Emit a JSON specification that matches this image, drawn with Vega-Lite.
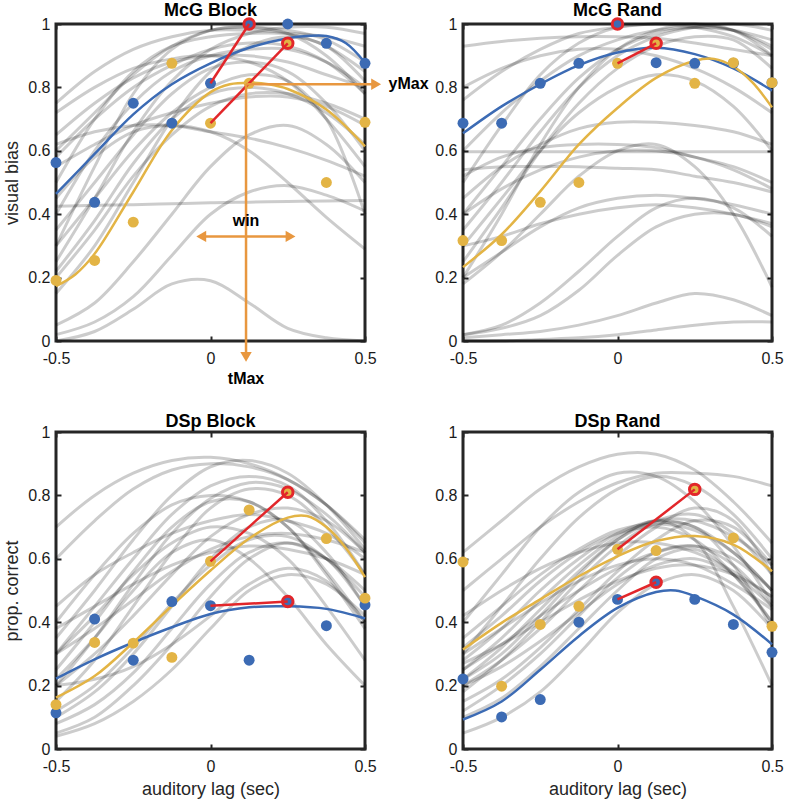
{
"$schema":"https://vega.github.io/schema/vega-lite/v6.json",
"padding":{"left":2,"top":0,"right":2,"bottom":2},
"background":"white",
"bounds":"flush",
"columns":2,
"spacing":{"row":91,"column":98},
"datasets":{
"g1":[
{"c":1,"x":-0.5,"y":0.75},{"c":1,"x":-0.375,"y":0.85},{"c":1,"x":-0.25,"y":0.92},{"c":1,"x":-0.125,"y":0.96},{"c":1,"x":0,"y":0.98},{"c":1,"x":0.125,"y":0.98},{"c":1,"x":0.25,"y":0.97},{"c":1,"x":0.375,"y":0.93},{"c":1,"x":0.5,"y":0.85},
{"c":2,"x":-0.5,"y":0.6},{"c":2,"x":-0.375,"y":0.72},{"c":2,"x":-0.25,"y":0.84},{"c":2,"x":-0.125,"y":0.93},{"c":2,"x":0,"y":0.98},{"c":2,"x":0.125,"y":0.99},{"c":2,"x":0.25,"y":0.97},{"c":2,"x":0.375,"y":0.9},{"c":2,"x":0.5,"y":0.78},
{"c":3,"x":-0.5,"y":0.3},{"c":3,"x":-0.375,"y":0.55},{"c":3,"x":-0.25,"y":0.78},{"c":3,"x":-0.125,"y":0.92},{"c":3,"x":0,"y":0.98},{"c":3,"x":0.125,"y":0.99},{"c":3,"x":0.25,"y":0.98},{"c":3,"x":0.375,"y":0.95},{"c":3,"x":0.5,"y":0.88},
{"c":4,"x":-0.5,"y":0.25},{"c":4,"x":-0.375,"y":0.45},{"c":4,"x":-0.25,"y":0.66},{"c":4,"x":-0.125,"y":0.82},{"c":4,"x":0,"y":0.92},{"c":4,"x":0.125,"y":0.97},{"c":4,"x":0.25,"y":0.99},{"c":4,"x":0.375,"y":0.99},{"c":4,"x":0.5,"y":0.97},
{"c":5,"x":-0.5,"y":0.4},{"c":5,"x":-0.375,"y":0.6},{"c":5,"x":-0.25,"y":0.75},{"c":5,"x":-0.125,"y":0.85},{"c":5,"x":0,"y":0.9},{"c":5,"x":0.125,"y":0.92},{"c":5,"x":0.25,"y":0.92},{"c":5,"x":0.375,"y":0.88},{"c":5,"x":0.5,"y":0.8},
{"c":6,"x":-0.5,"y":0.72},{"c":6,"x":-0.375,"y":0.8},{"c":6,"x":-0.25,"y":0.86},{"c":6,"x":-0.125,"y":0.89},{"c":6,"x":0,"y":0.9},{"c":6,"x":0.125,"y":0.88},{"c":6,"x":0.25,"y":0.82},{"c":6,"x":0.375,"y":0.7},{"c":6,"x":0.5,"y":0.55},
{"c":7,"x":-0.5,"y":0.55},{"c":7,"x":-0.375,"y":0.62},{"c":7,"x":-0.25,"y":0.68},{"c":7,"x":-0.125,"y":0.72},{"c":7,"x":0,"y":0.75},{"c":7,"x":0.125,"y":0.77},{"c":7,"x":0.25,"y":0.77},{"c":7,"x":0.375,"y":0.74},{"c":7,"x":0.5,"y":0.68},
{"c":8,"x":-0.5,"y":0.2},{"c":8,"x":-0.375,"y":0.35},{"c":8,"x":-0.25,"y":0.52},{"c":8,"x":-0.125,"y":0.65},{"c":8,"x":0,"y":0.74},{"c":8,"x":0.125,"y":0.78},{"c":8,"x":0.25,"y":0.78},{"c":8,"x":0.375,"y":0.75},{"c":8,"x":0.5,"y":0.7},
{"c":9,"x":-0.5,"y":0.45},{"c":9,"x":-0.375,"y":0.58},{"c":9,"x":-0.25,"y":0.66},{"c":9,"x":-0.125,"y":0.68},{"c":9,"x":0,"y":0.66},{"c":9,"x":0.125,"y":0.6},{"c":9,"x":0.25,"y":0.5},{"c":9,"x":0.375,"y":0.39},{"c":9,"x":0.5,"y":0.29},
{"c":10,"x":-0.5,"y":0.62},{"c":10,"x":-0.375,"y":0.66},{"c":10,"x":-0.25,"y":0.68},{"c":10,"x":-0.125,"y":0.68},{"c":10,"x":0,"y":0.66},{"c":10,"x":0.125,"y":0.64},{"c":10,"x":0.25,"y":0.61},{"c":10,"x":0.375,"y":0.57},{"c":10,"x":0.5,"y":0.52},
{"c":11,"x":-0.5,"y":0.425},{"c":11,"x":-0.375,"y":0.428},{"c":11,"x":-0.25,"y":0.43},{"c":11,"x":-0.125,"y":0.433},{"c":11,"x":0,"y":0.436},{"c":11,"x":0.125,"y":0.438},{"c":11,"x":0.25,"y":0.44},{"c":11,"x":0.375,"y":0.442},{"c":11,"x":0.5,"y":0.443},
{"c":12,"x":-0.5,"y":0.02},{"c":12,"x":-0.375,"y":0.06},{"c":12,"x":-0.25,"y":0.14},{"c":12,"x":-0.125,"y":0.27},{"c":12,"x":0,"y":0.4},{"c":12,"x":0.125,"y":0.47},{"c":12,"x":0.25,"y":0.49},{"c":12,"x":0.375,"y":0.46},{"c":12,"x":0.5,"y":0.41},
{"c":13,"x":-0.5,"y":0.0},{"c":13,"x":-0.375,"y":0.03},{"c":13,"x":-0.25,"y":0.1},{"c":13,"x":-0.125,"y":0.18},{"c":13,"x":0,"y":0.19},{"c":13,"x":0.125,"y":0.12},{"c":13,"x":0.25,"y":0.04},{"c":13,"x":0.375,"y":0.01},{"c":13,"x":0.5,"y":0.0},
{"c":14,"x":-0.5,"y":0.05},{"c":14,"x":-0.375,"y":0.12},{"c":14,"x":-0.25,"y":0.25},{"c":14,"x":-0.125,"y":0.4},{"c":14,"x":0,"y":0.55},{"c":14,"x":0.125,"y":0.65},{"c":14,"x":0.25,"y":0.68},{"c":14,"x":0.375,"y":0.62},{"c":14,"x":0.5,"y":0.5},
{"c":15,"x":-0.5,"y":0.35},{"c":15,"x":-0.375,"y":0.5},{"c":15,"x":-0.25,"y":0.65},{"c":15,"x":-0.125,"y":0.78},{"c":15,"x":0,"y":0.86},{"c":15,"x":0.125,"y":0.88},{"c":15,"x":0.25,"y":0.85},{"c":15,"x":0.375,"y":0.75},{"c":15,"x":0.5,"y":0.6},
{"c":16,"x":-0.5,"y":0.15},{"c":16,"x":-0.375,"y":0.3},{"c":16,"x":-0.25,"y":0.5},{"c":16,"x":-0.125,"y":0.7},{"c":16,"x":0,"y":0.85},{"c":16,"x":0.125,"y":0.93},{"c":16,"x":0.25,"y":0.96},{"c":16,"x":0.375,"y":0.93},{"c":16,"x":0.5,"y":0.82},
{"c":17,"x":-0.5,"y":0.58},{"c":17,"x":-0.375,"y":0.7},{"c":17,"x":-0.25,"y":0.8},{"c":17,"x":-0.125,"y":0.87},{"c":17,"x":0,"y":0.92},{"c":17,"x":0.125,"y":0.94},{"c":17,"x":0.25,"y":0.93},{"c":17,"x":0.375,"y":0.88},{"c":17,"x":0.5,"y":0.78},
{"c":18,"x":-0.5,"y":0.3},{"c":18,"x":-0.375,"y":0.45},{"c":18,"x":-0.25,"y":0.6},{"c":18,"x":-0.125,"y":0.72},{"c":18,"x":0,"y":0.8},{"c":18,"x":0.125,"y":0.84},{"c":18,"x":0.25,"y":0.82},{"c":18,"x":0.375,"y":0.7},{"c":18,"x":0.5,"y":0.4},
{"c":19,"x":-0.5,"y":0.22},{"c":19,"x":-0.375,"y":0.38},{"c":19,"x":-0.25,"y":0.56},{"c":19,"x":-0.125,"y":0.7},{"c":19,"x":0,"y":0.78},{"c":19,"x":0.125,"y":0.8},{"c":19,"x":0.25,"y":0.78},{"c":19,"x":0.375,"y":0.72},{"c":19,"x":0.5,"y":0.62},
{"c":20,"x":-0.5,"y":0.65},{"c":20,"x":-0.375,"y":0.75},{"c":20,"x":-0.25,"y":0.83},{"c":20,"x":-0.125,"y":0.88},{"c":20,"x":0,"y":0.9},{"c":20,"x":0.125,"y":0.9},{"c":20,"x":0.25,"y":0.88},{"c":20,"x":0.375,"y":0.84},{"c":20,"x":0.5,"y":0.8},
{"c":21,"x":-0.5,"y":0.5},{"c":21,"x":-0.375,"y":0.7},{"c":21,"x":-0.25,"y":0.85},{"c":21,"x":-0.125,"y":0.93},{"c":21,"x":0,"y":0.96},{"c":21,"x":0.125,"y":0.97},{"c":21,"x":0.25,"y":0.97},{"c":21,"x":0.375,"y":0.96},{"c":21,"x":0.5,"y":0.93}
],
"g2":[
{"c":1,"x":-0.5,"y":0.93},{"c":1,"x":-0.375,"y":0.945},{"c":1,"x":-0.25,"y":0.955},{"c":1,"x":-0.125,"y":0.96},{"c":1,"x":0,"y":0.96},{"c":1,"x":0.125,"y":0.955},{"c":1,"x":0.25,"y":0.94},{"c":1,"x":0.375,"y":0.92},{"c":1,"x":0.5,"y":0.9},
{"c":2,"x":-0.5,"y":0.76},{"c":2,"x":-0.375,"y":0.85},{"c":2,"x":-0.25,"y":0.92},{"c":2,"x":-0.125,"y":0.97},{"c":2,"x":0,"y":0.99},{"c":2,"x":0.125,"y":1.0},{"c":2,"x":0.25,"y":0.99},{"c":2,"x":0.375,"y":0.96},{"c":2,"x":0.5,"y":0.9},
{"c":3,"x":-0.5,"y":0.5},{"c":3,"x":-0.375,"y":0.68},{"c":3,"x":-0.25,"y":0.84},{"c":3,"x":-0.125,"y":0.94},{"c":3,"x":0,"y":0.99},{"c":3,"x":0.125,"y":1.0},{"c":3,"x":0.25,"y":1.0},{"c":3,"x":0.375,"y":0.98},{"c":3,"x":0.5,"y":0.92},
{"c":4,"x":-0.5,"y":0.4},{"c":4,"x":-0.375,"y":0.55},{"c":4,"x":-0.25,"y":0.7},{"c":4,"x":-0.125,"y":0.83},{"c":4,"x":0,"y":0.92},{"c":4,"x":0.125,"y":0.97},{"c":4,"x":0.25,"y":0.99},{"c":4,"x":0.375,"y":0.98},{"c":4,"x":0.5,"y":0.93},
{"c":5,"x":-0.5,"y":0.35},{"c":5,"x":-0.375,"y":0.5},{"c":5,"x":-0.25,"y":0.66},{"c":5,"x":-0.125,"y":0.8},{"c":5,"x":0,"y":0.9},{"c":5,"x":0.125,"y":0.96},{"c":5,"x":0.25,"y":0.99},{"c":5,"x":0.375,"y":1.0},{"c":5,"x":0.5,"y":0.98},
{"c":6,"x":-0.5,"y":0.2},{"c":6,"x":-0.375,"y":0.4},{"c":6,"x":-0.25,"y":0.62},{"c":6,"x":-0.125,"y":0.8},{"c":6,"x":0,"y":0.92},{"c":6,"x":0.125,"y":0.98},{"c":6,"x":0.25,"y":1.0},{"c":6,"x":0.375,"y":0.98},{"c":6,"x":0.5,"y":0.9},
{"c":7,"x":-0.5,"y":0.8},{"c":7,"x":-0.375,"y":0.86},{"c":7,"x":-0.25,"y":0.9},{"c":7,"x":-0.125,"y":0.92},{"c":7,"x":0,"y":0.92},{"c":7,"x":0.125,"y":0.9},{"c":7,"x":0.25,"y":0.86},{"c":7,"x":0.375,"y":0.8},{"c":7,"x":0.5,"y":0.72},
{"c":8,"x":-0.5,"y":0.597},{"c":8,"x":-0.375,"y":0.597},{"c":8,"x":-0.25,"y":0.597},{"c":8,"x":-0.125,"y":0.597},{"c":8,"x":0,"y":0.597},{"c":8,"x":0.125,"y":0.597},{"c":8,"x":0.25,"y":0.597},{"c":8,"x":0.375,"y":0.597},{"c":8,"x":0.5,"y":0.597},
{"c":9,"x":-0.5,"y":0.54},{"c":9,"x":-0.375,"y":0.55},{"c":9,"x":-0.25,"y":0.55},{"c":9,"x":-0.125,"y":0.55},{"c":9,"x":0,"y":0.545},{"c":9,"x":0.125,"y":0.54},{"c":9,"x":0.25,"y":0.52},{"c":9,"x":0.375,"y":0.5},{"c":9,"x":0.5,"y":0.47},
{"c":10,"x":-0.5,"y":0.45},{"c":10,"x":-0.375,"y":0.55},{"c":10,"x":-0.25,"y":0.62},{"c":10,"x":-0.125,"y":0.67},{"c":10,"x":0,"y":0.69},{"c":10,"x":0.125,"y":0.69},{"c":10,"x":0.25,"y":0.68},{"c":10,"x":0.375,"y":0.66},{"c":10,"x":0.5,"y":0.62},
{"c":11,"x":-0.5,"y":0.52},{"c":11,"x":-0.375,"y":0.58},{"c":11,"x":-0.25,"y":0.61},{"c":11,"x":-0.125,"y":0.62},{"c":11,"x":0,"y":0.62},{"c":11,"x":0.125,"y":0.61},{"c":11,"x":0.25,"y":0.58},{"c":11,"x":0.375,"y":0.55},{"c":11,"x":0.5,"y":0.5},
{"c":12,"x":-0.5,"y":0.18},{"c":12,"x":-0.375,"y":0.28},{"c":12,"x":-0.25,"y":0.4},{"c":12,"x":-0.125,"y":0.52},{"c":12,"x":0,"y":0.6},{"c":12,"x":0.125,"y":0.62},{"c":12,"x":0.25,"y":0.55},{"c":12,"x":0.375,"y":0.4},{"c":12,"x":0.5,"y":0.17},
{"c":13,"x":-0.5,"y":0.3},{"c":13,"x":-0.375,"y":0.33},{"c":13,"x":-0.25,"y":0.37},{"c":13,"x":-0.125,"y":0.4},{"c":13,"x":0,"y":0.42},{"c":13,"x":0.125,"y":0.43},{"c":13,"x":0.25,"y":0.42},{"c":13,"x":0.375,"y":0.4},{"c":13,"x":0.5,"y":0.37},
{"c":14,"x":-0.5,"y":0.02},{"c":14,"x":-0.375,"y":0.05},{"c":14,"x":-0.25,"y":0.12},{"c":14,"x":-0.125,"y":0.22},{"c":14,"x":0,"y":0.33},{"c":14,"x":0.125,"y":0.42},{"c":14,"x":0.25,"y":0.45},{"c":14,"x":0.375,"y":0.42},{"c":14,"x":0.5,"y":0.33},
{"c":15,"x":-0.5,"y":0.02},{"c":15,"x":-0.375,"y":0.04},{"c":15,"x":-0.25,"y":0.08},{"c":15,"x":-0.125,"y":0.16},{"c":15,"x":0,"y":0.27},{"c":15,"x":0.125,"y":0.36},{"c":15,"x":0.25,"y":0.4},{"c":15,"x":0.375,"y":0.4},{"c":15,"x":0.5,"y":0.36},
{"c":16,"x":-0.5,"y":0.01},{"c":16,"x":-0.375,"y":0.02},{"c":16,"x":-0.25,"y":0.03},{"c":16,"x":-0.125,"y":0.05},{"c":16,"x":0,"y":0.08},{"c":16,"x":0.125,"y":0.12},{"c":16,"x":0.25,"y":0.15},{"c":16,"x":0.375,"y":0.13},{"c":16,"x":0.5,"y":0.08},
{"c":17,"x":-0.5,"y":0.4},{"c":17,"x":-0.375,"y":0.48},{"c":17,"x":-0.25,"y":0.54},{"c":17,"x":-0.125,"y":0.58},{"c":17,"x":0,"y":0.6},{"c":17,"x":0.125,"y":0.6},{"c":17,"x":0.25,"y":0.58},{"c":17,"x":0.375,"y":0.54},{"c":17,"x":0.5,"y":0.48},
{"c":18,"x":-0.5,"y":0.2},{"c":18,"x":-0.375,"y":0.28},{"c":18,"x":-0.25,"y":0.36},{"c":18,"x":-0.125,"y":0.42},{"c":18,"x":0,"y":0.45},{"c":18,"x":0.125,"y":0.46},{"c":18,"x":0.25,"y":0.45},{"c":18,"x":0.375,"y":0.43},{"c":18,"x":0.5,"y":0.4},
{"c":19,"x":-0.5,"y":0.3},{"c":19,"x":-0.375,"y":0.45},{"c":19,"x":-0.25,"y":0.6},{"c":19,"x":-0.125,"y":0.72},{"c":19,"x":0,"y":0.8},{"c":19,"x":0.125,"y":0.84},{"c":19,"x":0.25,"y":0.82},{"c":19,"x":0.375,"y":0.74},{"c":19,"x":0.5,"y":0.6},
{"c":20,"x":-0.5,"y":0.6},{"c":20,"x":-0.375,"y":0.72},{"c":20,"x":-0.25,"y":0.82},{"c":20,"x":-0.125,"y":0.9},{"c":20,"x":0,"y":0.95},{"c":20,"x":0.125,"y":0.98},{"c":20,"x":0.25,"y":0.99},{"c":20,"x":0.375,"y":0.98},{"c":20,"x":0.5,"y":0.95},
{"c":21,"x":-0.5,"y":0.25},{"c":21,"x":-0.375,"y":0.42},{"c":21,"x":-0.25,"y":0.6},{"c":21,"x":-0.125,"y":0.75},{"c":21,"x":0,"y":0.86},{"c":21,"x":0.125,"y":0.93},{"c":21,"x":0.25,"y":0.96},{"c":21,"x":0.375,"y":0.95},{"c":21,"x":0.5,"y":0.86},
{"c":22,"x":-0.5,"y":0.0},{"c":22,"x":-0.375,"y":0.0},{"c":22,"x":-0.25,"y":0.005},{"c":22,"x":-0.125,"y":0.01},{"c":22,"x":0,"y":0.02},{"c":22,"x":0.125,"y":0.035},{"c":22,"x":0.25,"y":0.05},{"c":22,"x":0.375,"y":0.06},{"c":22,"x":0.5,"y":0.06}
],
"g3":[
{"c":1,"x":-0.5,"y":0.7},{"c":1,"x":-0.375,"y":0.8},{"c":1,"x":-0.25,"y":0.87},{"c":1,"x":-0.125,"y":0.91},{"c":1,"x":0,"y":0.92},{"c":1,"x":0.125,"y":0.9},{"c":1,"x":0.25,"y":0.85},{"c":1,"x":0.375,"y":0.77},{"c":1,"x":0.5,"y":0.66},
{"c":2,"x":-0.5,"y":0.6},{"c":2,"x":-0.375,"y":0.72},{"c":2,"x":-0.25,"y":0.82},{"c":2,"x":-0.125,"y":0.88},{"c":2,"x":0,"y":0.9},{"c":2,"x":0.125,"y":0.89},{"c":2,"x":0.25,"y":0.85},{"c":2,"x":0.375,"y":0.77},{"c":2,"x":0.5,"y":0.65},
{"c":3,"x":-0.5,"y":0.35},{"c":3,"x":-0.375,"y":0.5},{"c":3,"x":-0.25,"y":0.66},{"c":3,"x":-0.125,"y":0.8},{"c":3,"x":0,"y":0.89},{"c":3,"x":0.125,"y":0.91},{"c":3,"x":0.25,"y":0.87},{"c":3,"x":0.375,"y":0.77},{"c":3,"x":0.5,"y":0.63},
{"c":4,"x":-0.5,"y":0.3},{"c":4,"x":-0.375,"y":0.45},{"c":4,"x":-0.25,"y":0.6},{"c":4,"x":-0.125,"y":0.74},{"c":4,"x":0,"y":0.83},{"c":4,"x":0.125,"y":0.86},{"c":4,"x":0.25,"y":0.83},{"c":4,"x":0.375,"y":0.72},{"c":4,"x":0.5,"y":0.55},
{"c":5,"x":-0.5,"y":0.2},{"c":5,"x":-0.375,"y":0.35},{"c":5,"x":-0.25,"y":0.52},{"c":5,"x":-0.125,"y":0.68},{"c":5,"x":0,"y":0.79},{"c":5,"x":0.125,"y":0.84},{"c":5,"x":0.25,"y":0.82},{"c":5,"x":0.375,"y":0.74},{"c":5,"x":0.5,"y":0.62},
{"c":6,"x":-0.5,"y":0.15},{"c":6,"x":-0.375,"y":0.28},{"c":6,"x":-0.25,"y":0.45},{"c":6,"x":-0.125,"y":0.62},{"c":6,"x":0,"y":0.76},{"c":6,"x":0.125,"y":0.82},{"c":6,"x":0.25,"y":0.8},{"c":6,"x":0.375,"y":0.7},{"c":6,"x":0.5,"y":0.55},
{"c":7,"x":-0.5,"y":0.4},{"c":7,"x":-0.375,"y":0.55},{"c":7,"x":-0.25,"y":0.68},{"c":7,"x":-0.125,"y":0.77},{"c":7,"x":0,"y":0.8},{"c":7,"x":0.125,"y":0.78},{"c":7,"x":0.25,"y":0.7},{"c":7,"x":0.375,"y":0.56},{"c":7,"x":0.5,"y":0.4},
{"c":8,"x":-0.5,"y":0.25},{"c":8,"x":-0.375,"y":0.4},{"c":8,"x":-0.25,"y":0.56},{"c":8,"x":-0.125,"y":0.7},{"c":8,"x":0,"y":0.78},{"c":8,"x":0.125,"y":0.78},{"c":8,"x":0.25,"y":0.7},{"c":8,"x":0.375,"y":0.55},{"c":8,"x":0.5,"y":0.38},
{"c":9,"x":-0.5,"y":0.2},{"c":9,"x":-0.375,"y":0.3},{"c":9,"x":-0.25,"y":0.42},{"c":9,"x":-0.125,"y":0.55},{"c":9,"x":0,"y":0.67},{"c":9,"x":0.125,"y":0.74},{"c":9,"x":0.25,"y":0.76},{"c":9,"x":0.375,"y":0.72},{"c":9,"x":0.5,"y":0.62},
{"c":10,"x":-0.5,"y":0.3},{"c":10,"x":-0.375,"y":0.38},{"c":10,"x":-0.25,"y":0.47},{"c":10,"x":-0.125,"y":0.56},{"c":10,"x":0,"y":0.63},{"c":10,"x":0.125,"y":0.67},{"c":10,"x":0.25,"y":0.68},{"c":10,"x":0.375,"y":0.66},{"c":10,"x":0.5,"y":0.62},
{"c":11,"x":-0.5,"y":0.1},{"c":11,"x":-0.375,"y":0.18},{"c":11,"x":-0.25,"y":0.3},{"c":11,"x":-0.125,"y":0.45},{"c":11,"x":0,"y":0.6},{"c":11,"x":0.125,"y":0.7},{"c":11,"x":0.25,"y":0.72},{"c":11,"x":0.375,"y":0.62},{"c":11,"x":0.5,"y":0.45},
{"c":12,"x":-0.5,"y":0.05},{"c":12,"x":-0.375,"y":0.1},{"c":12,"x":-0.25,"y":0.2},{"c":12,"x":-0.125,"y":0.33},{"c":12,"x":0,"y":0.48},{"c":12,"x":0.125,"y":0.6},{"c":12,"x":0.25,"y":0.65},{"c":12,"x":0.375,"y":0.6},{"c":12,"x":0.5,"y":0.45},
{"c":13,"x":-0.5,"y":0.04},{"c":13,"x":-0.375,"y":0.08},{"c":13,"x":-0.25,"y":0.15},{"c":13,"x":-0.125,"y":0.25},{"c":13,"x":0,"y":0.38},{"c":13,"x":0.125,"y":0.5},{"c":13,"x":0.25,"y":0.55},{"c":13,"x":0.375,"y":0.52},{"c":13,"x":0.5,"y":0.42},
{"c":14,"x":-0.5,"y":0.2},{"c":14,"x":-0.375,"y":0.22},{"c":14,"x":-0.25,"y":0.26},{"c":14,"x":-0.125,"y":0.33},{"c":14,"x":0,"y":0.42},{"c":14,"x":0.125,"y":0.52},{"c":14,"x":0.25,"y":0.57},{"c":14,"x":0.375,"y":0.53},{"c":14,"x":0.5,"y":0.4},
{"c":15,"x":-0.5,"y":0.38},{"c":15,"x":-0.375,"y":0.45},{"c":15,"x":-0.25,"y":0.52},{"c":15,"x":-0.125,"y":0.58},{"c":15,"x":0,"y":0.62},{"c":15,"x":0.125,"y":0.64},{"c":15,"x":0.25,"y":0.63},{"c":15,"x":0.375,"y":0.6},{"c":15,"x":0.5,"y":0.55},
{"c":16,"x":-0.5,"y":0.22},{"c":16,"x":-0.375,"y":0.35},{"c":16,"x":-0.25,"y":0.5},{"c":16,"x":-0.125,"y":0.62},{"c":16,"x":0,"y":0.66},{"c":16,"x":0.125,"y":0.6},{"c":16,"x":0.25,"y":0.48},{"c":16,"x":0.375,"y":0.33},{"c":16,"x":0.5,"y":0.2},
{"c":17,"x":-0.5,"y":0.3},{"c":17,"x":-0.375,"y":0.42},{"c":17,"x":-0.25,"y":0.55},{"c":17,"x":-0.125,"y":0.65},{"c":17,"x":0,"y":0.7},{"c":17,"x":0.125,"y":0.68},{"c":17,"x":0.25,"y":0.6},{"c":17,"x":0.375,"y":0.45},{"c":17,"x":0.5,"y":0.28},
{"c":18,"x":-0.5,"y":0.12},{"c":18,"x":-0.375,"y":0.2},{"c":18,"x":-0.25,"y":0.32},{"c":18,"x":-0.125,"y":0.46},{"c":18,"x":0,"y":0.58},{"c":18,"x":0.125,"y":0.66},{"c":18,"x":0.25,"y":0.67},{"c":18,"x":0.375,"y":0.6},{"c":18,"x":0.5,"y":0.48},
{"c":19,"x":-0.5,"y":0.45},{"c":19,"x":-0.375,"y":0.55},{"c":19,"x":-0.25,"y":0.62},{"c":19,"x":-0.125,"y":0.68},{"c":19,"x":0,"y":0.72},{"c":19,"x":0.125,"y":0.74},{"c":19,"x":0.25,"y":0.72},{"c":19,"x":0.375,"y":0.68},{"c":19,"x":0.5,"y":0.6},
{"c":20,"x":-0.5,"y":0.08},{"c":20,"x":-0.375,"y":0.14},{"c":20,"x":-0.25,"y":0.24},{"c":20,"x":-0.125,"y":0.38},{"c":20,"x":0,"y":0.52},{"c":20,"x":0.125,"y":0.62},{"c":20,"x":0.25,"y":0.65},{"c":20,"x":0.375,"y":0.6},{"c":20,"x":0.5,"y":0.5}
],
"g4":[
{"c":1,"x":-0.5,"y":0.62},{"c":1,"x":-0.375,"y":0.72},{"c":1,"x":-0.25,"y":0.82},{"c":1,"x":-0.125,"y":0.89},{"c":1,"x":0,"y":0.93},{"c":1,"x":0.125,"y":0.93},{"c":1,"x":0.25,"y":0.88},{"c":1,"x":0.375,"y":0.78},{"c":1,"x":0.5,"y":0.65},
{"c":2,"x":-0.5,"y":0.5},{"c":2,"x":-0.375,"y":0.6},{"c":2,"x":-0.25,"y":0.7},{"c":2,"x":-0.125,"y":0.78},{"c":2,"x":0,"y":0.84},{"c":2,"x":0.125,"y":0.87},{"c":2,"x":0.25,"y":0.87},{"c":2,"x":0.375,"y":0.86},{"c":2,"x":0.5,"y":0.83},
{"c":3,"x":-0.5,"y":0.4},{"c":3,"x":-0.375,"y":0.55},{"c":3,"x":-0.25,"y":0.7},{"c":3,"x":-0.125,"y":0.81},{"c":3,"x":0,"y":0.87},{"c":3,"x":0.125,"y":0.86},{"c":3,"x":0.25,"y":0.78},{"c":3,"x":0.375,"y":0.64},{"c":3,"x":0.5,"y":0.46},
{"c":4,"x":-0.5,"y":0.3},{"c":4,"x":-0.375,"y":0.45},{"c":4,"x":-0.25,"y":0.6},{"c":4,"x":-0.125,"y":0.73},{"c":4,"x":0,"y":0.82},{"c":4,"x":0.125,"y":0.86},{"c":4,"x":0.25,"y":0.83},{"c":4,"x":0.375,"y":0.74},{"c":4,"x":0.5,"y":0.6},
{"c":5,"x":-0.5,"y":0.25},{"c":5,"x":-0.375,"y":0.35},{"c":5,"x":-0.25,"y":0.47},{"c":5,"x":-0.125,"y":0.58},{"c":5,"x":0,"y":0.67},{"c":5,"x":0.125,"y":0.72},{"c":5,"x":0.25,"y":0.72},{"c":5,"x":0.375,"y":0.67},{"c":5,"x":0.5,"y":0.58},
{"c":6,"x":-0.5,"y":0.28},{"c":6,"x":-0.375,"y":0.38},{"c":6,"x":-0.25,"y":0.5},{"c":6,"x":-0.125,"y":0.6},{"c":6,"x":0,"y":0.68},{"c":6,"x":0.125,"y":0.72},{"c":6,"x":0.25,"y":0.7},{"c":6,"x":0.375,"y":0.62},{"c":6,"x":0.5,"y":0.5},
{"c":7,"x":-0.5,"y":0.22},{"c":7,"x":-0.375,"y":0.32},{"c":7,"x":-0.25,"y":0.44},{"c":7,"x":-0.125,"y":0.56},{"c":7,"x":0,"y":0.66},{"c":7,"x":0.125,"y":0.72},{"c":7,"x":0.25,"y":0.74},{"c":7,"x":0.375,"y":0.68},{"c":7,"x":0.5,"y":0.55},
{"c":8,"x":-0.5,"y":0.35},{"c":8,"x":-0.375,"y":0.45},{"c":8,"x":-0.25,"y":0.55},{"c":8,"x":-0.125,"y":0.63},{"c":8,"x":0,"y":0.69},{"c":8,"x":0.125,"y":0.71},{"c":8,"x":0.25,"y":0.69},{"c":8,"x":0.375,"y":0.62},{"c":8,"x":0.5,"y":0.5},
{"c":9,"x":-0.5,"y":0.2},{"c":9,"x":-0.375,"y":0.28},{"c":9,"x":-0.25,"y":0.38},{"c":9,"x":-0.125,"y":0.5},{"c":9,"x":0,"y":0.61},{"c":9,"x":0.125,"y":0.7},{"c":9,"x":0.25,"y":0.76},{"c":9,"x":0.375,"y":0.72},{"c":9,"x":0.5,"y":0.55},
{"c":10,"x":-0.5,"y":0.15},{"c":10,"x":-0.375,"y":0.22},{"c":10,"x":-0.25,"y":0.32},{"c":10,"x":-0.125,"y":0.44},{"c":10,"x":0,"y":0.56},{"c":10,"x":0.125,"y":0.66},{"c":10,"x":0.25,"y":0.72},{"c":10,"x":0.375,"y":0.7},{"c":10,"x":0.5,"y":0.58},
{"c":11,"x":-0.5,"y":0.1},{"c":11,"x":-0.375,"y":0.16},{"c":11,"x":-0.25,"y":0.26},{"c":11,"x":-0.125,"y":0.38},{"c":11,"x":0,"y":0.5},{"c":11,"x":0.125,"y":0.6},{"c":11,"x":0.25,"y":0.63},{"c":11,"x":0.375,"y":0.55},{"c":11,"x":0.5,"y":0.4},
{"c":12,"x":-0.5,"y":0.05},{"c":12,"x":-0.375,"y":0.1},{"c":12,"x":-0.25,"y":0.18},{"c":12,"x":-0.125,"y":0.3},{"c":12,"x":0,"y":0.43},{"c":12,"x":0.125,"y":0.52},{"c":12,"x":0.25,"y":0.55},{"c":12,"x":0.375,"y":0.5},{"c":12,"x":0.5,"y":0.38},
{"c":13,"x":-0.5,"y":0.3},{"c":13,"x":-0.375,"y":0.38},{"c":13,"x":-0.25,"y":0.46},{"c":13,"x":-0.125,"y":0.53},{"c":13,"x":0,"y":0.58},{"c":13,"x":0.125,"y":0.6},{"c":13,"x":0.25,"y":0.58},{"c":13,"x":0.375,"y":0.52},{"c":13,"x":0.5,"y":0.44},
{"c":14,"x":-0.5,"y":0.42},{"c":14,"x":-0.375,"y":0.5},{"c":14,"x":-0.25,"y":0.57},{"c":14,"x":-0.125,"y":0.62},{"c":14,"x":0,"y":0.65},{"c":14,"x":0.125,"y":0.65},{"c":14,"x":0.25,"y":0.62},{"c":14,"x":0.375,"y":0.56},{"c":14,"x":0.5,"y":0.48},
{"c":15,"x":-0.5,"y":0.25},{"c":15,"x":-0.375,"y":0.33},{"c":15,"x":-0.25,"y":0.42},{"c":15,"x":-0.125,"y":0.5},{"c":15,"x":0,"y":0.57},{"c":15,"x":0.125,"y":0.62},{"c":15,"x":0.25,"y":0.64},{"c":15,"x":0.375,"y":0.6},{"c":15,"x":0.5,"y":0.5},
{"c":16,"x":-0.5,"y":0.2},{"c":16,"x":-0.375,"y":0.26},{"c":16,"x":-0.25,"y":0.34},{"c":16,"x":-0.125,"y":0.43},{"c":16,"x":0,"y":0.52},{"c":16,"x":0.125,"y":0.58},{"c":16,"x":0.25,"y":0.6},{"c":16,"x":0.375,"y":0.55},{"c":16,"x":0.5,"y":0.45},
{"c":17,"x":-0.5,"y":0.18},{"c":17,"x":-0.375,"y":0.28},{"c":17,"x":-0.25,"y":0.4},{"c":17,"x":-0.125,"y":0.53},{"c":17,"x":0,"y":0.64},{"c":17,"x":0.125,"y":0.71},{"c":17,"x":0.25,"y":0.7},{"c":17,"x":0.375,"y":0.58},{"c":17,"x":0.5,"y":0.38},
{"c":18,"x":-0.5,"y":0.27},{"c":18,"x":-0.375,"y":0.33},{"c":18,"x":-0.25,"y":0.4},{"c":18,"x":-0.125,"y":0.47},{"c":18,"x":0,"y":0.53},{"c":18,"x":0.125,"y":0.57},{"c":18,"x":0.25,"y":0.58},{"c":18,"x":0.375,"y":0.55},{"c":18,"x":0.5,"y":0.48},
{"c":19,"x":-0.5,"y":0.12},{"c":19,"x":-0.375,"y":0.2},{"c":19,"x":-0.25,"y":0.3},{"c":19,"x":-0.125,"y":0.42},{"c":19,"x":0,"y":0.54},{"c":19,"x":0.125,"y":0.62},{"c":19,"x":0.25,"y":0.64},{"c":19,"x":0.375,"y":0.58},{"c":19,"x":0.5,"y":0.45},
{"c":20,"x":-0.5,"y":0.32},{"c":20,"x":-0.375,"y":0.42},{"c":20,"x":-0.25,"y":0.53},{"c":20,"x":-0.125,"y":0.62},{"c":20,"x":0,"y":0.68},{"c":20,"x":0.125,"y":0.7},{"c":20,"x":0.25,"y":0.66},{"c":20,"x":0.375,"y":0.55},{"c":20,"x":0.5,"y":0.4},
{"c":21,"x":-0.5,"y":0.22},{"c":21,"x":-0.375,"y":0.3},{"c":21,"x":-0.25,"y":0.42},{"c":21,"x":-0.125,"y":0.55},{"c":21,"x":0,"y":0.66},{"c":21,"x":0.125,"y":0.72},{"c":21,"x":0.25,"y":0.66},{"c":21,"x":0.375,"y":0.45},{"c":21,"x":0.5,"y":0.2}
],
"f1":[
{"g":"b","x":-0.5,"y":0.464},{"g":"b","x":-0.375,"y":0.59},{"g":"b","x":-0.25,"y":0.715},{"g":"b","x":-0.125,"y":0.81},{"g":"b","x":0,"y":0.876},{"g":"b","x":0.125,"y":0.925},{"g":"b","x":0.25,"y":0.955},{"g":"b","x":0.3125,"y":0.962},{"g":"b","x":0.375,"y":0.962},{"g":"b","x":0.4375,"y":0.94},{"g":"b","x":0.5,"y":0.878},
{"g":"y","x":-0.5,"y":0.173},{"g":"y","x":-0.4375,"y":0.21},{"g":"y","x":-0.375,"y":0.275},{"g":"y","x":-0.25,"y":0.47},{"g":"y","x":-0.125,"y":0.665},{"g":"y","x":0,"y":0.785},{"g":"y","x":0.0625,"y":0.81},{"g":"y","x":0.125,"y":0.815},{"g":"y","x":0.1875,"y":0.81},{"g":"y","x":0.25,"y":0.795},{"g":"y","x":0.375,"y":0.73},{"g":"y","x":0.5,"y":0.614}
],
"f2":[
{"g":"b","x":-0.5,"y":0.655},{"g":"b","x":-0.375,"y":0.74},{"g":"b","x":-0.25,"y":0.81},{"g":"b","x":-0.125,"y":0.87},{"g":"b","x":0,"y":0.91},{"g":"b","x":0.125,"y":0.925},{"g":"b","x":0.25,"y":0.905},{"g":"b","x":0.375,"y":0.86},{"g":"b","x":0.5,"y":0.79},
{"g":"y","x":-0.5,"y":0.233},{"g":"y","x":-0.375,"y":0.336},{"g":"y","x":-0.25,"y":0.472},{"g":"y","x":-0.125,"y":0.62},{"g":"y","x":0,"y":0.735},{"g":"y","x":0.125,"y":0.83},{"g":"y","x":0.25,"y":0.884},{"g":"y","x":0.3125,"y":0.89},{"g":"y","x":0.375,"y":0.866},{"g":"y","x":0.4375,"y":0.815},{"g":"y","x":0.5,"y":0.737}
],
"f3":[
{"g":"b","x":-0.5,"y":0.222},{"g":"b","x":-0.375,"y":0.283},{"g":"b","x":-0.25,"y":0.336},{"g":"b","x":-0.125,"y":0.384},{"g":"b","x":0,"y":0.426},{"g":"b","x":0.125,"y":0.447},{"g":"b","x":0.25,"y":0.45},{"g":"b","x":0.375,"y":0.442},{"g":"b","x":0.5,"y":0.412},
{"g":"y","x":-0.5,"y":0.162},{"g":"y","x":-0.375,"y":0.23},{"g":"y","x":-0.25,"y":0.336},{"g":"y","x":-0.125,"y":0.452},{"g":"y","x":0,"y":0.563},{"g":"y","x":0.125,"y":0.664},{"g":"y","x":0.25,"y":0.73},{"g":"y","x":0.3125,"y":0.735},{"g":"y","x":0.375,"y":0.7},{"g":"y","x":0.4375,"y":0.635},{"g":"y","x":0.5,"y":0.542}
],
"f4":[
{"g":"b","x":-0.5,"y":0.093},{"g":"b","x":-0.375,"y":0.15},{"g":"b","x":-0.25,"y":0.25},{"g":"b","x":-0.125,"y":0.356},{"g":"b","x":0,"y":0.445},{"g":"b","x":0.125,"y":0.495},{"g":"b","x":0.1875,"y":0.5},{"g":"b","x":0.25,"y":0.482},{"g":"b","x":0.375,"y":0.424},{"g":"b","x":0.5,"y":0.33},
{"g":"y","x":-0.5,"y":0.314},{"g":"y","x":-0.375,"y":0.398},{"g":"y","x":-0.25,"y":0.472},{"g":"y","x":-0.125,"y":0.545},{"g":"y","x":0,"y":0.608},{"g":"y","x":0.125,"y":0.656},{"g":"y","x":0.25,"y":0.672},{"g":"y","x":0.375,"y":0.645},{"g":"y","x":0.5,"y":0.561}
],
"d1":[
{"g":"b","x":-0.5,"y":0.563},{"g":"b","x":-0.375,"y":0.4375},{"g":"b","x":-0.25,"y":0.75},{"g":"b","x":-0.125,"y":0.687},{"g":"b","x":0,"y":0.813},{"g":"b","x":0.125,"y":1.0},{"g":"b","x":0.25,"y":1.0},{"g":"b","x":0.375,"y":0.939},{"g":"b","x":0.5,"y":0.876},
{"g":"y","x":-0.5,"y":0.191},{"g":"y","x":-0.375,"y":0.254},{"g":"y","x":-0.25,"y":0.375},{"g":"y","x":-0.125,"y":0.876},{"g":"y","x":0,"y":0.687},{"g":"y","x":0.125,"y":0.813},{"g":"y","x":0.25,"y":0.939},{"g":"y","x":0.375,"y":0.5},{"g":"y","x":0.5,"y":0.69}
],
"d2":[
{"g":"b","x":-0.5,"y":0.687},{"g":"b","x":-0.375,"y":0.687},{"g":"b","x":-0.25,"y":0.813},{"g":"b","x":-0.125,"y":0.876},{"g":"b","x":0,"y":1.0},{"g":"b","x":0.125,"y":0.878},{"g":"b","x":0.25,"y":0.876},{"g":"b","x":0.375,"y":0.876},{"g":"b","x":0.5,"y":0.815},
{"g":"y","x":-0.5,"y":0.317},{"g":"y","x":-0.375,"y":0.317},{"g":"y","x":-0.25,"y":0.4375},{"g":"y","x":-0.125,"y":0.5},{"g":"y","x":0,"y":0.876},{"g":"y","x":0.125,"y":0.939},{"g":"y","x":0.25,"y":0.813},{"g":"y","x":0.375,"y":0.878},{"g":"y","x":0.5,"y":0.815}
],
"d3":[
{"g":"b","x":-0.5,"y":0.114},{"g":"b","x":-0.375,"y":0.41},{"g":"b","x":-0.25,"y":0.28},{"g":"b","x":-0.125,"y":0.465},{"g":"b","x":0,"y":0.452},{"g":"b","x":0.125,"y":0.28},{"g":"b","x":0.25,"y":0.465},{"g":"b","x":0.375,"y":0.389},{"g":"b","x":0.5,"y":0.455},
{"g":"y","x":-0.5,"y":0.14},{"g":"y","x":-0.375,"y":0.336},{"g":"y","x":-0.25,"y":0.334},{"g":"y","x":-0.125,"y":0.289},{"g":"y","x":0,"y":0.592},{"g":"y","x":0.125,"y":0.754},{"g":"y","x":0.25,"y":0.81},{"g":"y","x":0.375,"y":0.664},{"g":"y","x":0.5,"y":0.476}
],
"d4":[
{"g":"b","x":-0.5,"y":0.221},{"g":"b","x":-0.375,"y":0.101},{"g":"b","x":-0.25,"y":0.156},{"g":"b","x":-0.125,"y":0.4},{"g":"b","x":0,"y":0.472},{"g":"b","x":0.125,"y":0.526},{"g":"b","x":0.25,"y":0.472},{"g":"b","x":0.375,"y":0.393},{"g":"b","x":0.5,"y":0.305},
{"g":"y","x":-0.5,"y":0.59},{"g":"y","x":-0.375,"y":0.198},{"g":"y","x":-0.25,"y":0.393},{"g":"y","x":-0.125,"y":0.45},{"g":"y","x":0,"y":0.63},{"g":"y","x":0.125,"y":0.626},{"g":"y","x":0.25,"y":0.819},{"g":"y","x":0.375,"y":0.666},{"g":"y","x":0.5,"y":0.387}
],
"r1":[{"k":"b","x":0,"y":0.813,"e":0},{"k":"b","x":0.125,"y":1.0,"e":1},{"k":"y","x":0,"y":0.687,"e":0},{"k":"y","x":0.25,"y":0.939,"e":1}],
"r2":[{"k":"b","x":0,"y":1.0,"e":1},{"k":"y","x":0,"y":0.876,"e":0},{"k":"y","x":0.125,"y":0.939,"e":1}],
"r3":[{"k":"b","x":0,"y":0.452,"e":0},{"k":"b","x":0.25,"y":0.465,"e":1},{"k":"y","x":0,"y":0.592,"e":0},{"k":"y","x":0.25,"y":0.81,"e":1}],
"r4":[{"k":"b","x":0,"y":0.472,"e":0},{"k":"b","x":0.125,"y":0.526,"e":1},{"k":"y","x":0,"y":0.63,"e":0},{"k":"y","x":0.25,"y":0.819,"e":1}],
"a1":[{"k":"v","x":0.115,"y":0.81},{"k":"v","x":0.115,"y":-0.05},{"k":"h","x":0.115,"y":0.81},{"k":"h","x":0.535,"y":0.81},{"k":"w","x":-0.03,"y":0.33},{"k":"w","x":0.259,"y":0.33}],
"t1":[{"s":"triangle-down","x":0.115,"y":-0.05},{"s":"triangle-right","x":0.536,"y":0.81},{"s":"triangle-left","x":-0.03,"y":0.33},{"s":"triangle-right","x":0.259,"y":0.33}],
"x1":[{"t":"tMax","x":0.115,"y":-0.12},{"t":"win","x":0.115,"y":0.378},{"t":"yMax","x":0.641,"y":0.81}]
},
"concat":[
{"width":309,"height":317,"title":{"text":"McG Block"},
 "resolve":{"axis":{"x":"independent","y":"independent"}},
 "layer":[
  {"data":{"name":"g1"},"mark":{"type":"line","interpolate":"catmull-rom","color":"black","opacity":0.2,"strokeWidth":3},
   "encoding":{"x":{"field":"x","type":"quantitative","scale":{"domain":[-0.5,0.5],"nice":false,"zero":false},"axis":{"orient":"bottom","values":[-0.5,0,0.5],"title":null}},
    "y":{"field":"y","type":"quantitative","scale":{"domain":[0,1],"nice":false},"axis":{"orient":"left","values":[0,0.2,0.4,0.6,0.8,1],"title":"visual bias"}},
    "detail":{"field":"c","type":"nominal"}}},
  {"data":{"name":"f1"},"mark":{"type":"line","interpolate":"catmull-rom","strokeWidth":2.5},
   "encoding":{"x":{"field":"x","type":"quantitative","axis":null},"y":{"field":"y","type":"quantitative","axis":null},"color":{"field":"g","type":"nominal","scale":{"domain":["b","y"],"range":["#3C6BB4","#E3B445"]},"legend":null}}},
  {"data":{"name":"d1"},"mark":{"type":"point","filled":true,"size":120,"opacity":1},
   "encoding":{"x":{"field":"x","type":"quantitative","axis":{"orient":"top","labels":false,"title":null,"values":[-0.5,0,0.5]}},"y":{"field":"y","type":"quantitative","axis":{"orient":"right","labels":false,"title":null,"values":[0,0.2,0.4,0.6,0.8,1]}},"color":{"field":"g","type":"nominal","legend":null}}},
  {"data":{"name":"r1"},"mark":{"type":"line","color":"#E2262A","strokeWidth":2.5},
   "encoding":{"x":{"field":"x","type":"quantitative","axis":null},"y":{"field":"y","type":"quantitative","axis":null},"detail":{"field":"k","type":"nominal"}}},
  {"data":{"name":"r1"},"transform":[{"filter":"datum.e==1"}],"mark":{"type":"point","filled":false,"color":"#E2262A","strokeWidth":3,"size":110,"opacity":1},
   "encoding":{"x":{"field":"x","type":"quantitative","axis":null},"y":{"field":"y","type":"quantitative","axis":null}}},
  {"data":{"name":"a1"},"mark":{"type":"line","color":"#E8973F","strokeWidth":2.5},
   "encoding":{"x":{"field":"x","type":"quantitative","axis":null},"y":{"field":"y","type":"quantitative","axis":null},"detail":{"field":"k","type":"nominal"}}},
  {"data":{"name":"t1"},"mark":{"type":"point","filled":true,"color":"#E8973F","size":130,"opacity":1},
   "encoding":{"x":{"field":"x","type":"quantitative","axis":null},"y":{"field":"y","type":"quantitative","axis":null},"shape":{"field":"s","type":"nominal","scale":null}}},
  {"data":{"name":"x1"},"mark":{"type":"text","fontWeight":"bold","fontSize":16,"color":"black","font":"Liberation Sans"},
   "encoding":{"x":{"field":"x","type":"quantitative","axis":null},"y":{"field":"y","type":"quantitative","axis":null},"text":{"field":"t"}}}
 ]},
{"width":309,"height":317,"title":{"text":"McG Rand"},
 "resolve":{"axis":{"x":"independent","y":"independent"}},
 "layer":[
  {"data":{"name":"g2"},"mark":{"type":"line","interpolate":"catmull-rom","color":"black","opacity":0.2,"strokeWidth":3},
   "encoding":{"x":{"field":"x","type":"quantitative","scale":{"domain":[-0.5,0.5],"nice":false,"zero":false},"axis":{"orient":"bottom","values":[-0.5,0,0.5],"title":null}},
    "y":{"field":"y","type":"quantitative","scale":{"domain":[0,1],"nice":false},"axis":{"orient":"left","values":[0,0.2,0.4,0.6,0.8,1],"title":null}},
    "detail":{"field":"c","type":"nominal"}}},
  {"data":{"name":"f2"},"mark":{"type":"line","interpolate":"catmull-rom","strokeWidth":2.5},
   "encoding":{"x":{"field":"x","type":"quantitative","axis":null},"y":{"field":"y","type":"quantitative","axis":null},"color":{"field":"g","type":"nominal","legend":null}}},
  {"data":{"name":"d2"},"mark":{"type":"point","filled":true,"size":120,"opacity":1},
   "encoding":{"x":{"field":"x","type":"quantitative","axis":{"orient":"top","labels":false,"title":null,"values":[-0.5,0,0.5]}},"y":{"field":"y","type":"quantitative","axis":{"orient":"right","labels":false,"title":null,"values":[0,0.2,0.4,0.6,0.8,1]}},"color":{"field":"g","type":"nominal","legend":null}}},
  {"data":{"name":"r2"},"mark":{"type":"line","color":"#E2262A","strokeWidth":2.5},
   "encoding":{"x":{"field":"x","type":"quantitative","axis":null},"y":{"field":"y","type":"quantitative","axis":null},"detail":{"field":"k","type":"nominal"}}},
  {"data":{"name":"r2"},"transform":[{"filter":"datum.e==1"}],"mark":{"type":"point","filled":false,"color":"#E2262A","strokeWidth":3,"size":110,"opacity":1},
   "encoding":{"x":{"field":"x","type":"quantitative","axis":null},"y":{"field":"y","type":"quantitative","axis":null}}}
 ]},
{"width":309,"height":317,"title":{"text":"DSp Block"},
 "resolve":{"axis":{"x":"independent","y":"independent"}},
 "layer":[
  {"data":{"name":"g3"},"mark":{"type":"line","interpolate":"catmull-rom","color":"black","opacity":0.2,"strokeWidth":3},
   "encoding":{"x":{"field":"x","type":"quantitative","scale":{"domain":[-0.5,0.5],"nice":false,"zero":false},"axis":{"orient":"bottom","values":[-0.5,0,0.5],"title":"auditory lag (sec)"}},
    "y":{"field":"y","type":"quantitative","scale":{"domain":[0,1],"nice":false},"axis":{"orient":"left","values":[0,0.2,0.4,0.6,0.8,1],"title":"prop. correct"}},
    "detail":{"field":"c","type":"nominal"}}},
  {"data":{"name":"f3"},"mark":{"type":"line","interpolate":"catmull-rom","strokeWidth":2.5},
   "encoding":{"x":{"field":"x","type":"quantitative","axis":null},"y":{"field":"y","type":"quantitative","axis":null},"color":{"field":"g","type":"nominal","legend":null}}},
  {"data":{"name":"d3"},"mark":{"type":"point","filled":true,"size":120,"opacity":1},
   "encoding":{"x":{"field":"x","type":"quantitative","axis":{"orient":"top","labels":false,"title":null,"values":[-0.5,0,0.5]}},"y":{"field":"y","type":"quantitative","axis":{"orient":"right","labels":false,"title":null,"values":[0,0.2,0.4,0.6,0.8,1]}},"color":{"field":"g","type":"nominal","legend":null}}},
  {"data":{"name":"r3"},"mark":{"type":"line","color":"#E2262A","strokeWidth":2.5},
   "encoding":{"x":{"field":"x","type":"quantitative","axis":null},"y":{"field":"y","type":"quantitative","axis":null},"detail":{"field":"k","type":"nominal"}}},
  {"data":{"name":"r3"},"transform":[{"filter":"datum.e==1"}],"mark":{"type":"point","filled":false,"color":"#E2262A","strokeWidth":3,"size":110,"opacity":1},
   "encoding":{"x":{"field":"x","type":"quantitative","axis":null},"y":{"field":"y","type":"quantitative","axis":null}}}
 ]},
{"width":309,"height":317,"title":{"text":"DSp Rand"},
 "resolve":{"axis":{"x":"independent","y":"independent"}},
 "layer":[
  {"data":{"name":"g4"},"mark":{"type":"line","interpolate":"catmull-rom","color":"black","opacity":0.2,"strokeWidth":3},
   "encoding":{"x":{"field":"x","type":"quantitative","scale":{"domain":[-0.5,0.5],"nice":false,"zero":false},"axis":{"orient":"bottom","values":[-0.5,0,0.5],"title":"auditory lag (sec)"}},
    "y":{"field":"y","type":"quantitative","scale":{"domain":[0,1],"nice":false},"axis":{"orient":"left","values":[0,0.2,0.4,0.6,0.8,1],"title":null}},
    "detail":{"field":"c","type":"nominal"}}},
  {"data":{"name":"f4"},"mark":{"type":"line","interpolate":"catmull-rom","strokeWidth":2.5},
   "encoding":{"x":{"field":"x","type":"quantitative","axis":null},"y":{"field":"y","type":"quantitative","axis":null},"color":{"field":"g","type":"nominal","legend":null}}},
  {"data":{"name":"d4"},"mark":{"type":"point","filled":true,"size":120,"opacity":1},
   "encoding":{"x":{"field":"x","type":"quantitative","axis":{"orient":"top","labels":false,"title":null,"values":[-0.5,0,0.5]}},"y":{"field":"y","type":"quantitative","axis":{"orient":"right","labels":false,"title":null,"values":[0,0.2,0.4,0.6,0.8,1]}},"color":{"field":"g","type":"nominal","legend":null}}},
  {"data":{"name":"r4"},"mark":{"type":"line","color":"#E2262A","strokeWidth":2.5},
   "encoding":{"x":{"field":"x","type":"quantitative","axis":null},"y":{"field":"y","type":"quantitative","axis":null},"detail":{"field":"k","type":"nominal"}}},
  {"data":{"name":"r4"},"transform":[{"filter":"datum.e==1"}],"mark":{"type":"point","filled":false,"color":"#E2262A","strokeWidth":3,"size":110,"opacity":1},
   "encoding":{"x":{"field":"x","type":"quantitative","axis":null},"y":{"field":"y","type":"quantitative","axis":null}}}
 ]}
],
"config":{
 "font":"Liberation Sans",
 "view":{"stroke":"#262626","strokeWidth":3},
 "axis":{"grid":false,"domain":false,"tickColor":"#262626","tickSize":-5,"tickWidth":2,"labelFlush":false,"labelOverlap":false,"labelFont":"Liberation Sans","labelFontSize":16,"labelColor":"#1a1a1a","labelExpr":"replace(format(datum.value,'~g'),'\u2212','-')","titleFont":"Liberation Sans","titleFontSize":18,"titleFontWeight":"normal","titleColor":"#262626"},
 "axisX":{"labelPadding":14,"titlePadding":6},
 "axisY":{"labelPadding":11,"titlePadding":6},
 "title":{"font":"Liberation Sans","fontSize":18,"fontWeight":"bold","color":"black","offset":-7}
}
}
